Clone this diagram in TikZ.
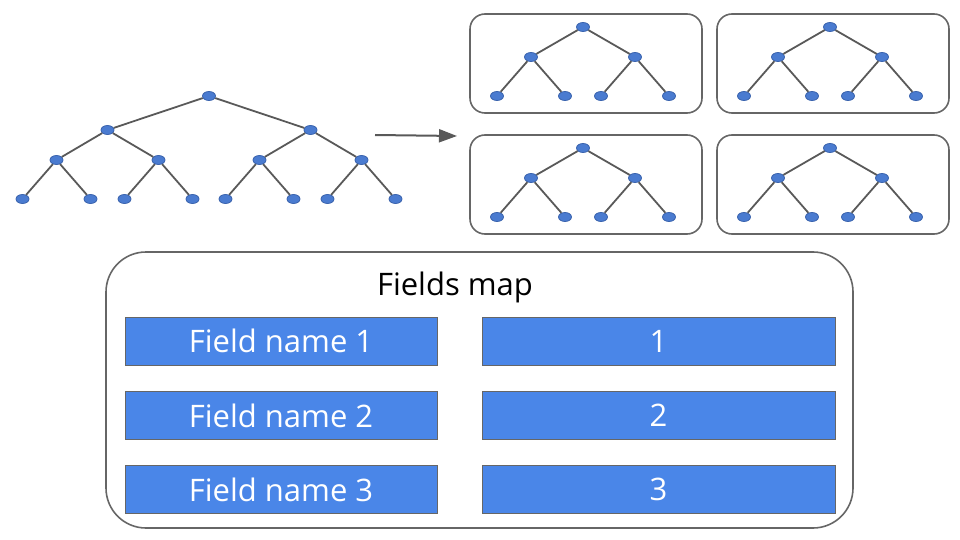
\documentclass[tikz,border=0pt]{standalone}
\usepackage{fontspec}
\setmainfont{Open Sans}
\usetikzlibrary{arrows.meta,shapes.geometric}

\definecolor{dotblue}{HTML}{4A7BD0}
\definecolor{dotline}{HTML}{3B64AE}
\definecolor{edgegray}{HTML}{595959}
\definecolor{boxgray}{HTML}{666666}
\definecolor{fieldblue}{HTML}{4A86E8}

\tikzset{
  dot/.style={ellipse, draw=dotline, fill=dotblue, line width=0.8pt,
    minimum width=13pt, minimum height=9pt, inner sep=0pt},
  subbox/.style={draw=boxgray, line width=1.6pt, rounded corners=15pt,
    minimum width=232pt, minimum height=99pt},
  mapbox/.style={draw=boxgray, line width=1.6pt, rounded corners=40pt,
    minimum width=747pt, minimum height=276pt},
  fieldbox/.style={draw=boxgray, fill=fieldblue, line width=1pt,
    minimum height=48pt, text=white, font=\fontsize{31}{33}\selectfont}
}

\begin{document}
\begin{tikzpicture}[
    x=1pt, y=-1pt,
    every child node/.style={dot},
    edge from parent/.style={draw=edgegray, line width=1.8pt},
    level 1/.style={sibling distance=203pt, level distance=34pt},
    level 2/.style={sibling distance=102pt, level distance=30pt},
    level 3/.style={sibling distance=68pt, level distance=39pt}
  ]
  \useasboundingbox (0,0) rectangle (960,540);

  % the whole tree
  \node[dot] (root) at (209,96) {}
    child {node {}
      child {node {} child {node {}} child {node {}}}
      child {node {} child {node {}} child {node {}}}
    }
    child {node {}
      child {node {} child {node {}} child {node {}}}
      child {node {} child {node {}} child {node {}}}
    };

  \coordinate (split from) at (375,135);
  \coordinate (split to) at (457,136);
  \draw[edgegray, line width=2pt, -{Triangle[length=18pt,width=13pt]}] (split from) -- (split to);

  % the parts
  \begin{scope}[
      level 1/.style={sibling distance=104pt, level distance=30pt},
      level 2/.style={sibling distance=68pt, level distance=39pt}
    ]
    \foreach \bx/\by [count=\i] in {470/14, 717/14, 470/135, 717/135} {
      \node[subbox] (part\i) at (\bx+116,\by+49.5) {};
      \node[dot] (sub\i) at (\bx+113,\by+13) {}
        child {node {} child {node {}} child {node {}}}
        child {node {} child {node {}} child {node {}}};
    }
  \end{scope}

  % fields map
  \node[mapbox] (map) at (479.5,390) {};
  \node[font=\fontsize{31}{33}\selectfont] (maptitle) at (455,287) {Fields map};
  \foreach \y/\n in {341/1, 415.5/2, 489.5/3} {
    \node[fieldbox, minimum width=312pt] (name\n) at (281,\y) {Field name \n};
    \node[fieldbox, minimum width=353pt] (value\n) at (658.5,\y) {\n};
  }

\end{tikzpicture}
\end{document}
